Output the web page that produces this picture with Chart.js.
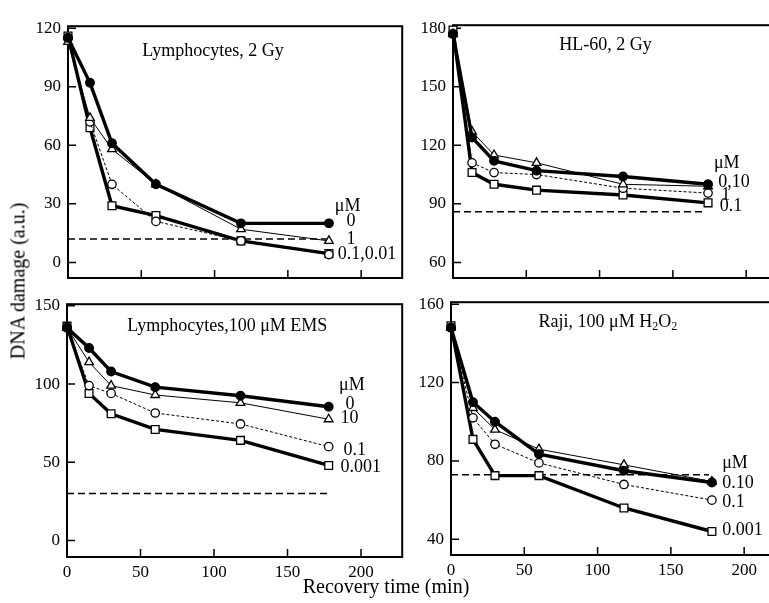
<!DOCTYPE html>
<html>
<head>
<meta charset="utf-8">
<script src="https://cdn.jsdelivr.net/npm/chart.js@4.4.0/dist/chart.umd.min.js"></script>
<style>
  html, body { margin: 0; padding: 0; background: #fff; overflow: hidden; }
  #wrap { position: relative; width: 769px; height: 603px; overflow: hidden; font-family: "Liberation Serif", serif; }
  #wrap canvas { position: absolute; }
  .axis-title { position: absolute; font-size: 20px; color: #000; white-space: nowrap; }
  #ytitle { left: 18px; top: 281px; transform: translate(-50%, -50%) rotate(-90deg); }
  #xtitle { left: 386px; top: 586px; transform: translate(-50%, -50%); }
</style>
</head>
<body>
<div id="wrap">
  <canvas id="c1"></canvas>
  <canvas id="c2"></canvas>
  <canvas id="c3"></canvas>
  <canvas id="c4"></canvas>
  <div id="ytitle" class="axis-title">DNA damage (a.u.)</div>
  <div id="xtitle" class="axis-title">Recovery time (min)</div>
</div>
<script>
// tiempos de recuperación (min)
const times = [0, 15, 30, 60, 118, 178];
const hlTimes = [0, 13, 28, 57, 116, 174];
const xTicks = [0, 50, 100, 150, 200];

// Lymphocytes, 2 Gy
const lyGyZero = [115, 92, 61, 40, 20, 20];
const lyGyOne = [113, 74, 58, 40, 17, 11];
const lyGyCircle = [115, 72, 40, 21, 11, 4];
const lyGySquare = [116, 69, 29, 24, 11, 4.5];
const lyGyBase = 12;
const lyGyTicks = [0, 30, 60, 90, 120];

// HL-60, 2 Gy
const hlZero = [177, 124, 112, 107, 104, 100];
const hlTen = [177, 127, 115, 111, 100, 99];
const hlOne = [177, 111, 106, 105, 98, 95.5];
const hlSquare = [179, 106, 100, 97, 94.5, 90.5];
const hlBase = 86;
const hlTicks = [60, 90, 120, 150, 180];

// Lymphocytes, 100 uM EMS
const emsZero = [136, 123, 108, 98, 92.5, 85.5];
const emsTen = [136, 114, 99, 93, 88, 77.5];
const emsCircle = [136, 99, 94, 81.5, 74.5, 60];
const emsSquare = [137, 94, 81, 71, 64, 48];
const emsBase = 30;
const emsTicks = [0, 50, 100, 150];

// Raji, 100 uM H2O2
const rajiZero = [148, 110, 100, 83.5, 75, 69];
const rajiTen = [148, 107, 96, 86, 78, 69.5];
const rajiCircle = [148, 102, 88.5, 79, 68, 60];
const rajiSquare = [149, 91, 72.5, 72.5, 56, 44];
const rajiBase = 73;
const rajiTicks = [40, 80, 120, 160];

const FONT = 'Liberation Serif';

// estilos: círculo lleno, triángulo, círculo abierto, cuadrado
const styles = [
    { pointStyle: 'circle', pointRadius: 4.3, pointBackgroundColor: '#000', borderWidth: 3.4 },
    { pointStyle: 'triangle', pointRadius: 5, pointBackgroundColor: '#fff', borderWidth: 1 },
    { pointStyle: 'circle', pointRadius: 4.2, pointBackgroundColor: '#fff', borderWidth: 1, borderDash: [3, 2] },
    { pointStyle: 'rect', pointRadius: 5.5, pointBackgroundColor: '#fff', borderWidth: 3.4 }
];

const panels = [
    {
        id: 'c1', box: [68, 17, 403, 278], yMin: -8, yMax: 121, yTicks: lyGyTicks, xLabels: false, t: times,
        series: [lyGyZero, lyGyOne, lyGyCircle, lyGySquare], base: lyGyBase, baseEnd: 177,
        title: [['Lymphocytes, 2 Gy', 0]], titleAt: [99, 108],
        notes: [['μM', 182, 29], ['0', 190, 21], ['1', 190, 12], ['0.1,0.01', 184, 4]]
    },
    {
        id: 'c2', box: [453, 16, 788, 278], yMin: 52, yMax: 181.5, yTicks: hlTicks, xLabels: false, t: hlTimes,
        series: [hlZero, hlTen, hlOne, hlSquare], base: hlBase, baseEnd: 171,
        title: [['HL-60, 2 Gy', 0]], titleAt: [104, 171],
        notes: [['μM', 178, 111], ['0,10', 181, 101], ['1', 183, 94.5], ['0.1', 182, 89]]
    },
    {
        id: 'c3', box: [67, 295, 403, 557], yMin: -10.5, yMax: 151, yTicks: emsTicks, xLabels: true, t: times,
        series: [emsZero, emsTen, emsCircle, emsSquare], base: emsBase, baseEnd: 178,
        title: [['Lymphocytes,100 μM EMS', 0]], titleAt: [109, 137],
        notes: [['μM', 185, 99.5], ['0', 189.5, 87], ['10', 186, 78], ['0.1', 188, 58], ['0.001', 186, 47]]
    },
    {
        id: 'c4', box: [451, 293, 786, 555], yMin: 32, yMax: 161, yTicks: rajiTicks, xLabels: true, t: times,
        series: [rajiZero, rajiTen, rajiCircle, rajiSquare], base: rajiBase, baseEnd: 176,
        title: [['Raji, 100 μM H', 0], ['2', 1], ['O', 0], ['2', 1]], titleAt: [107, 151],
        notes: [['μM', 185, 78.6], ['0.10', 185, 68.7], ['0.1', 185, 59], ['0.001', 185, 44.6]]
    }
];

// marco, marcas hacia dentro y textos de cada panel
const panelDeco = {
    id: 'panelDeco',
    beforeDatasetsDraw(chart) {
        const { ctx, chartArea: a, scales } = chart;
        ctx.save();
        ctx.strokeStyle = '#000';
        ctx.lineWidth = 2;
        ctx.strokeRect(a.left, a.top, a.right - a.left, a.bottom - a.top);
        ctx.lineWidth = 1.5;
        ctx.beginPath();
        scales.x.ticks.forEach(t => {
            const px = scales.x.getPixelForValue(t.value);
            ctx.moveTo(px, a.bottom);
            ctx.lineTo(px, a.bottom - 8);
        });
        scales.y.ticks.forEach(t => {
            const py = scales.y.getPixelForValue(t.value);
            ctx.moveTo(a.left, py);
            ctx.lineTo(a.left + 8, py);
        });
        ctx.stroke();
        ctx.restore();
    },
    afterDatasetsDraw(chart, args, opts) {
        const { ctx, scales } = chart;
        ctx.save();
        ctx.fillStyle = '#000';
        ctx.textBaseline = 'middle';
        // título con subíndices
        const main = '18px "' + FONT + '"';
        const small = '12px "' + FONT + '"';
        let total = 0;
        opts.title.forEach(([txt, sub]) => {
            ctx.font = sub ? small : main;
            total += ctx.measureText(txt).width;
        });
        let tx = scales.x.getPixelForValue(opts.titleAt[0]) - total / 2;
        const ty = scales.y.getPixelForValue(opts.titleAt[1]);
        ctx.textAlign = 'left';
        opts.title.forEach(([txt, sub]) => {
            ctx.font = sub ? small : main;
            ctx.fillText(txt, tx, sub ? ty + 5 : ty);
            tx += ctx.measureText(txt).width;
        });
        // etiquetas de concentración
        ctx.font = main;
        opts.notes.forEach(([txt, vx, vy]) => {
            ctx.fillText(txt, scales.x.getPixelForValue(vx), scales.y.getPixelForValue(vy));
        });
        ctx.restore();
    }
};

function makePanel(p) {
    const [L, T, R, B] = p.box;
    const yw = 50, xh = 30, pt = 8, pr = 6;
    const canvas = document.getElementById(p.id);
    canvas.width = R - L + yw + pr;
    canvas.height = B - T + pt + xh;
    canvas.style.left = (L - yw) + 'px';
    canvas.style.top = (T - pt) + 'px';

    const datasets = p.series.map((vals, i) => Object.assign({
        data: p.t.map((t, k) => ({ x: t, y: vals[k] })),
        borderColor: '#000',
        pointBorderColor: '#000',
        pointBorderWidth: 1.3,
        fill: false,
        tension: 0,
        clip: false
    }, styles[i]));
    datasets.push({
        data: [{ x: 0, y: p.base }, { x: p.baseEnd, y: p.base }],
        borderColor: '#000',
        borderWidth: 1.5,
        borderDash: [7, 4],
        pointRadius: 0,
        fill: false
    });

    new Chart(canvas, {
        type: 'line',
        data: { datasets },
        options: {
            responsive: false,
            animation: false,
            devicePixelRatio: 1,
            layout: { padding: { top: pt, right: pr, bottom: 0, left: 0 } },
            plugins: {
                legend: { display: false },
                tooltip: { enabled: false },
                panelDeco: { title: p.title, titleAt: p.titleAt, notes: p.notes }
            },
            scales: {
                x: {
                    type: 'linear', min: 0, max: 228,
                    afterBuildTicks: s => { s.ticks = xTicks.map(v => ({ value: v })); },
                    afterFit: s => { s.height = xh; },
                    grid: { display: false, drawTicks: false },
                    border: { display: false },
                    ticks: { display: p.xLabels, color: '#000', padding: 5, maxRotation: 0, autoSkip: false, font: { family: FONT, size: 17 } }
                },
                y: {
                    min: p.yMin, max: p.yMax,
                    afterBuildTicks: s => { s.ticks = p.yTicks.map(v => ({ value: v })); },
                    afterFit: s => { s.width = yw; },
                    grid: { display: false, drawTicks: false },
                    border: { display: false },
                    ticks: { color: '#000', padding: 7, autoSkip: false, font: { family: FONT, size: 17 } }
                }
            }
        },
        plugins: [panelDeco]
    });
}

panels.forEach(makePanel);
</script>
</body>
</html>
